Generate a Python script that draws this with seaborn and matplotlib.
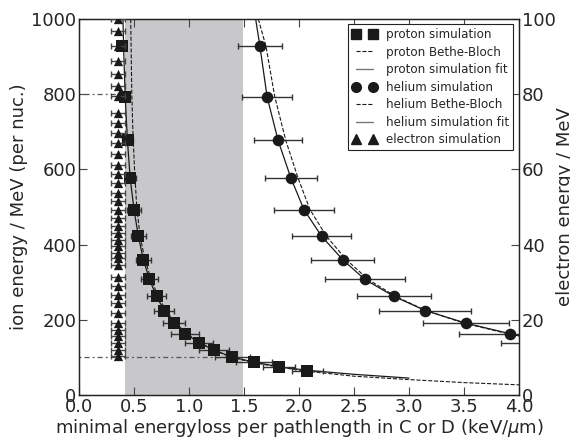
import numpy as np
import pandas as pd
import matplotlib
matplotlib.use("Agg")
import matplotlib.pyplot as plt
from matplotlib.lines import Line2D
import seaborn as sns

# ---------------- data ----------------
ion_energy = [929, 792, 678, 578, 493, 422, 360, 308, 262, 223, 191, 163, 139, 119, 101, 87, 75, 63]

proton_dedx = [0.388, 0.418, 0.442, 0.464, 0.50, 0.54, 0.585, 0.64, 0.706, 0.773,
               0.864, 0.964, 1.09, 1.227, 1.394, 1.59, 1.82, 2.075]
proton_err = [0.04, 0.045, 0.05, 0.05, 0.06, 0.065, 0.07, 0.075, 0.085, 0.092,
              0.10, 0.124, 0.13, 0.14, 0.16, 0.16, 0.145, 0.14]

helium_energy = [929, 792, 678, 578, 493, 422, 360, 308, 262, 223, 191, 163, 139]
helium_dedx = [1.645, 1.71, 1.81, 1.925, 2.045, 2.206, 2.397, 2.60, 2.866, 3.145, 3.518, 3.918, 4.30]
helium_err = [0.20, 0.23, 0.22, 0.235, 0.27, 0.27, 0.285, 0.36, 0.335, 0.42, 0.39, 0.46, 0.46]

electron_energy = [100, 96.9, 92.7, 88.9, 85.3, 82.2, 79.5, 75.1, 72.4, 69.8, 67.0, 64.0,
                   61.3, 58.7, 56.4, 53.8, 51.5, 49.3, 47.1, 44.9, 43.1, 41.3, 39.6, 37.8,
                   36.4, 34.7, 31.5, 28.9, 26.7, 24.5, 21.8, 19.1, 17.3, 15.6, 13.8, 12.0, 10.5]
electron_dedx = [0.355] * len(electron_energy)
electron_err = [0.062] * len(electron_energy)

proton_fit_x = [0.40, 0.405, 0.42, 0.44, 0.465, 0.50, 0.54, 0.585, 0.64, 0.705, 0.78, 0.87,
                0.97, 1.09, 1.23, 1.39, 1.60, 1.84, 2.10, 2.50, 3.00]
proton_fit_y = [1000, 929, 792, 678, 578, 493, 422, 360, 308, 262, 222, 191,
                163, 139, 119, 101, 87, 74, 65, 55, 45]

proton_bb_x = [0.47, 0.475, 0.48, 0.49, 0.505, 0.525, 0.555, 0.60, 0.655, 0.72, 0.795, 0.88,
               0.98, 1.10, 1.23, 1.38, 1.57, 1.80, 2.05, 2.50, 3.00, 3.50, 4.00]
proton_bb_y = [1000, 900, 800, 700, 600, 500, 422, 360, 308, 262, 222, 191,
               163, 139, 119, 101, 87, 75, 64, 50, 41, 33, 27]

helium_fit_x = [1.606, 1.645, 1.71, 1.81, 1.925, 2.045, 2.206, 2.397, 2.60, 2.866, 3.145, 3.518, 3.918, 4.0]
helium_fit_y = [1000, 927, 793, 677, 578, 493, 422, 360, 307, 262, 225, 191, 163, 158]

helium_bb_x = [1.63, 1.70, 1.78, 1.88, 1.99, 2.10, 2.25, 2.43, 2.63, 2.88, 3.15, 3.50, 3.90, 4.0]
helium_bb_y = [1000, 927, 793, 677, 578, 493, 422, 360, 307, 262, 225, 191, 163, 157]

band_x = [0.42, 1.49]
guide_y = [800, 100]
guide_xmax = [0.41, 1.39]

# ---------------- style ----------------
sns.set_style("ticks", {"xtick.direction": "in", "ytick.direction": "in"})
plt.rcParams["font.family"] = ["DejaVu Sans"]
plt.rcParams["mathtext.fontset"] = "dejavusans"

fig = plt.figure(figsize=(5.7, 4.4), dpi=100)
ax = fig.add_axes([79 / 570, 45 / 440, 440 / 570, 376 / 440])
ax2 = ax.twinx()

K = "#1a1a1a"
ax.axvspan(band_x[0], band_x[1], color="#c8c8ca", lw=0, zorder=0)

for gy, gx in zip(guide_y, guide_xmax):
    ax.plot([0, gx], [gy, gy], color="#555555", lw=0.9, ls=(0, (1.5, 2.5, 4, 2.5)), zorder=1)

# curves
sns.lineplot(x=proton_bb_x, y=proton_bb_y, ax=ax, color=K, lw=0.8, ls="--",
             sort=False, estimator=None, zorder=3)
sns.lineplot(x=proton_fit_x, y=proton_fit_y, ax=ax, color=K, lw=0.9,
             sort=False, estimator=None, zorder=3)
sns.lineplot(x=helium_bb_x, y=helium_bb_y, ax=ax, color=K, lw=0.8, ls="--",
             sort=False, estimator=None, zorder=3)
sns.lineplot(x=helium_fit_x, y=helium_fit_y, ax=ax, color=K, lw=0.9,
             sort=False, estimator=None, zorder=3)

# errorbars
ax.errorbar(proton_dedx, ion_energy, xerr=proton_err, fmt="none", ecolor="#333333",
            elinewidth=1.0, capsize=2.5, capthick=1.0, zorder=4)
ax.errorbar(helium_dedx, helium_energy, xerr=helium_err, fmt="none", ecolor="#333333",
            elinewidth=1.0, capsize=2.5, capthick=1.0, zorder=4)
ax2.errorbar(electron_dedx, electron_energy, xerr=electron_err, fmt="none", ecolor="#444444",
             elinewidth=1.0, capsize=2.5, capthick=1.0, zorder=4)

# markers
sns.scatterplot(x=proton_dedx, y=ion_energy, ax=ax, marker="s", s=65, color=K,
                edgecolor=K, linewidth=0, zorder=5)
sns.scatterplot(x=helium_dedx, y=helium_energy, ax=ax, marker="o", s=70, color=K,
                edgecolor=K, linewidth=0, zorder=5)
sns.scatterplot(x=electron_dedx, y=electron_energy, ax=ax2, marker="^", s=45, color=K,
                edgecolor=K, linewidth=0, zorder=5)

ax.set_xlim(0, 4.0)
ax.set_ylim(0, 1000)
ax2.set_ylim(0, 100)
ax.set_xticks([0.0, 0.5, 1.0, 1.5, 2.0, 2.5, 3.0, 3.5, 4.0])
ax.set_xticklabels(["0.0", "0.5", "1.0", "1.5", "2.0", "2.5", "3.0", "3.5", "4.0"])
ax.set_yticks([0, 200, 400, 600, 800, 1000])
ax2.set_yticks([0, 20, 40, 60, 80, 100])

ax.tick_params(axis="both", which="major", direction="in", length=6, width=0.8,
               labelsize=13, pad=2, top=True, right=False, color="#444444")
ax2.tick_params(axis="y", direction="in", length=6, width=0.8, labelsize=13, pad=2,
                color="#444444")
for a in (ax, ax2):
    for sp in a.spines.values():
        sp.set_linewidth(0.9)
        sp.set_color("#222222")

ax.set_xlabel(r"minimal energyloss per pathlength in C or D (keV/$\mu$m)", fontsize=13, labelpad=1)
ax.set_ylabel("ion energy / MeV (per nuc.)", fontsize=13, labelpad=2)
ax2.set_ylabel("electron energy / MeV", fontsize=13, rotation=90)
ax2.yaxis.set_label_coords(1.084, 0.5)

# legend
handles = [
    Line2D([], [], marker="s", color=K, ls="none", markersize=7),
    Line2D([], [], color=K, ls="--", lw=0.8),
    Line2D([], [], color="#777777", lw=1.0),
    Line2D([], [], marker="o", color=K, ls="none", markersize=7),
    Line2D([], [], color=K, ls="--", lw=0.8),
    Line2D([], [], color="#777777", lw=1.0),
    Line2D([], [], marker="^", color=K, ls="none", markersize=7),
]
labels = ["proton simulation", "proton Bethe-Bloch", "proton simulation fit",
          "helium simulation", "helium Bethe-Bloch", "helium simulation fit",
          "electron simulation"]
leg = ax2.legend(handles, labels, loc="upper right", bbox_to_anchor=(0.987, 0.987),
                 borderaxespad=0, numpoints=2, fontsize=8.6, frameon=True, fancybox=False,
                 edgecolor="#222222", framealpha=1, labelspacing=0.38, handlelength=2.0,
                 handletextpad=0.8, borderpad=0.35)
leg.get_frame().set_linewidth(0.8)

fig.savefig("out.png", dpi=100)
